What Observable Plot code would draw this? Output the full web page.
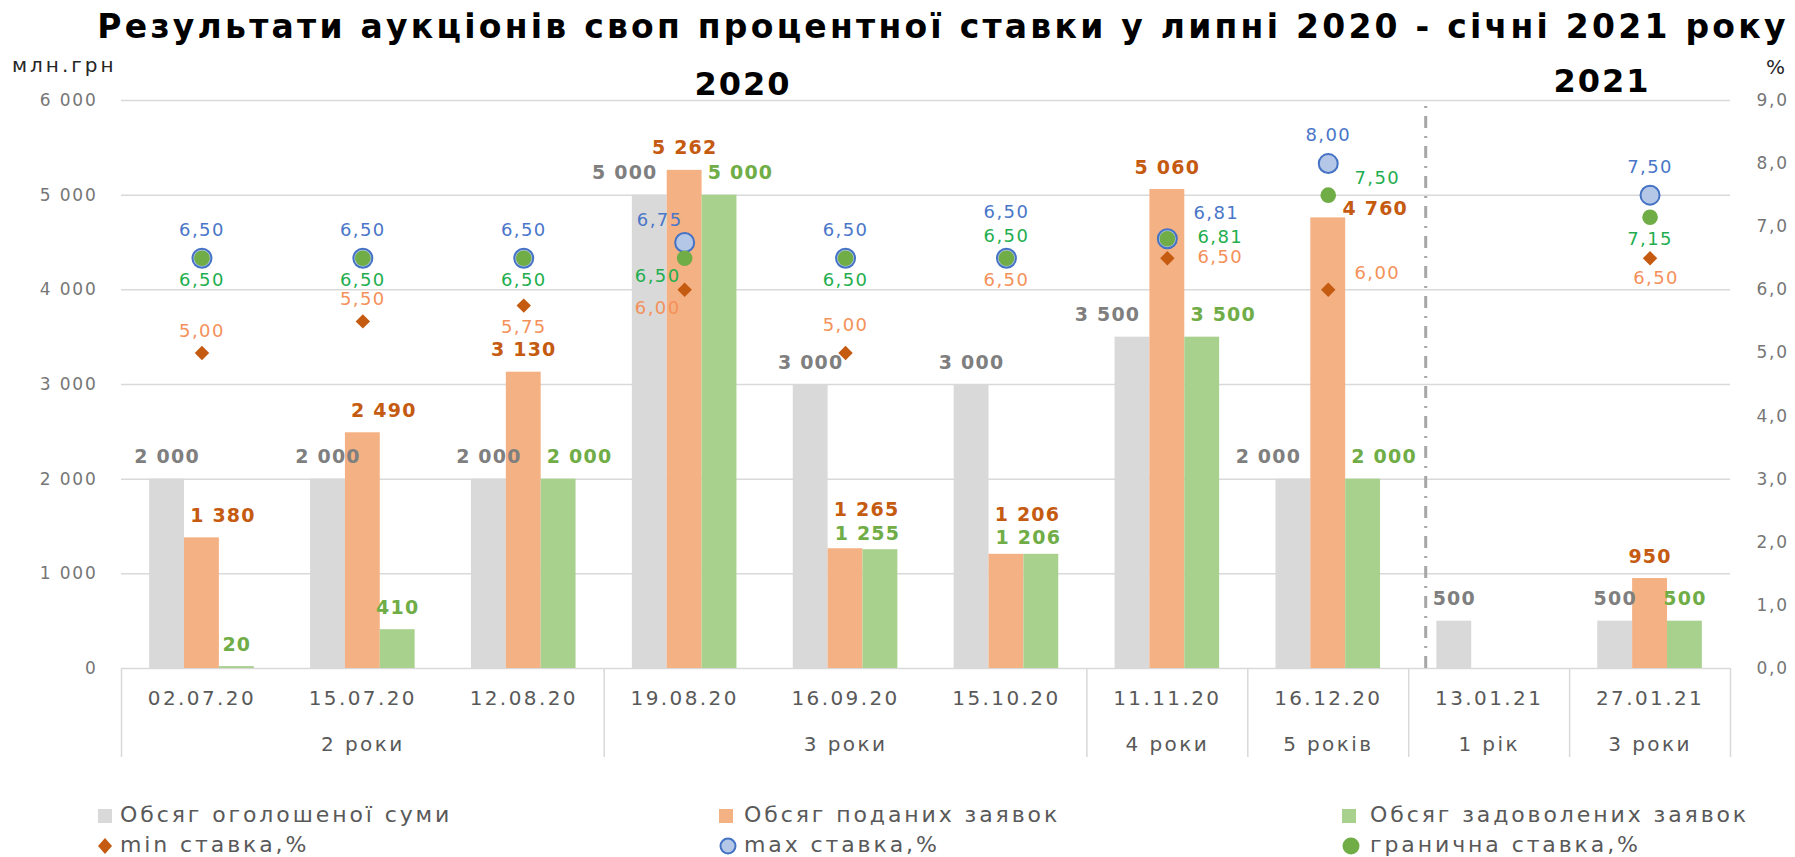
<!DOCTYPE html>
<html>
<head>
<meta charset="utf-8">
<script src="https://cdn.jsdelivr.net/npm/d3@7"></script>
<script src="https://cdn.jsdelivr.net/npm/@observablehq/plot@0.6"></script>
<style>
  html, body { margin: 0; padding: 0; background: #fff; }
  body { font-family: "DejaVu Sans", sans-serif; }
  #wrap { position: relative; width: 1795px; height: 857px; overflow: hidden; }
  #header { position: relative; height: 52px; z-index: 2; }
  .abs { position: absolute; white-space: nowrap; line-height: 1; }
  .center { transform: translateX(-50%); }
  #title { left: 943px; top: 10px; font-size: 33px; font-weight: bold; color: #000; letter-spacing: 3.25px; }
  #unitL { left: 12px; top: 55px; font-size: 20px; color: #262626; letter-spacing: 3px; }
  #unitR { left: 1766px; top: 57px; font-size: 20px; color: #262626; }
  .year { font-size: 32px; font-weight: bold; color: #000; letter-spacing: 2px; }
  #chart { position: relative; height: 718px; z-index: 1; }
  #legend { position: relative; height: 87px; }
  .lg-text { font-size: 22px; color: #595959; letter-spacing: 2.9px; }
  #chart svg g[font-size="17"] text { letter-spacing: 1.8px; }
  #chart svg g[font-size="20"] text { letter-spacing: 2.4px; }
  #chart svg g[font-size="19"] text { letter-spacing: 1.2px; }
  #chart svg g[font-size="18"] text { letter-spacing: 1.4px; }
</style>
</head>
<body>
<div id="wrap">
  <div id="header">
    <div id="title" class="abs center">Результати аукціонів своп процентної ставки у липні 2020 - січні 2021 року</div>
    <div id="unitL" class="abs">млн.грн</div>
    <div id="unitR" class="abs">%</div>
    <div id="years"></div>
  </div>
  <div id="chart"></div>
  <div id="legend"></div>
</div>
<script>
// ---------------- data ----------------
const dates = ["02.07.20","15.07.20","12.08.20","19.08.20","16.09.20","15.10.20","11.11.20","16.12.20","13.01.21","27.01.21"];
const terms = ["2 роки","2 роки","2 роки","3 роки","3 роки","3 роки","4 роки","5 років","1 рік","3 роки"];
const announced = [2000, 2000, 2000, 5000, 3000, 3000, 3500, 2000, 500, 500];
const submitted = [1380, 2490, 3130, 5262, 1265, 1206, 5060, 4760, null, 950];
const satisfied = [20, 410, 2000, 5000, 1255, 1206, 3500, 2000, null, 500];
const minRate = [5.00, 5.50, 5.75, 6.00, 5.00, 6.50, 6.50, 6.00, null, 6.50];
const maxRate = [6.50, 6.50, 6.50, 6.75, 6.50, 6.50, 6.81, 8.00, null, 7.50];
const cutRate = [6.50, 6.50, 6.50, 6.50, 6.50, 6.50, 6.81, 7.50, null, 7.15];
const amountTicks = [0, 1000, 2000, 3000, 4000, 5000, 6000];
const rateTicks = [0, 1, 2, 3, 4, 5, 6, 7, 8, 9];
const yearLabels = ["2020", "2021"];
const seriesNames = ["Обсяг оголошеної суми", "Обсяг поданих заявок", "Обсяг задоволених заявок"];
const rateNames = ["min ставка,%", "max ставка,%", "гранична ставка,%"];

// ---------------- label placement (layout, not data) ----------------
const offsets = {
  n: [0, -22], up: [0, -28], nn: [0, -46], s: [0, 22],
  ne: [21, -22], nw: [-25, -22], nne: [21, -39], nnw: [-13, -16],
  sw: [-27, 18], se: [6, 20], e: [53, -1], en: [49, -17], ene: [49, -25], eb: [47, -9]
};
const grayPos   = ["n","n","n","nw","n","n","nw","nw","n","n"];
const orangePos = ["ne","ne","n","n","nne","nne","n","eb",null,"n"];
const greenPos  = ["n","n","ne","ne","nnw","nnw","ne","ne",null,"n"];
const maxPos    = ["up","up","up","nw","up","nn","ene","up",null,"up"];
const cutPos    = ["s","s","s","sw","s","n","e","en",null,"s"];
const minPos    = ["n","n","s","sw","up","s","e","en",null,"se"];

// ---------------- colors ----------------
const C = {
  gray: "#d9d9d9", orange: "#f4b183", green: "#a9d18e",
  grayLbl: "#7f7f7f", orangeLbl: "#c55a11", greenLbl: "#70ad47",
  minMk: "#c55a11", maxFill: "#b4c7e7", maxStroke: "#4472c4", cutMk: "#70ad47",
  minLbl: "#f4915a", maxLbl: "#4a76c9", cutLbl: "#1fae4f",
  tick: "#767676", axis: "#595959", grid: "#d9d9d9"
};

const n = dates.length;
const amountMax = d3.max(amountTicks);
const rateMax = d3.max(rateTicks);
const rateToY = r => r == null ? null : r * amountMax / rateMax;
const fmtAmt = v => d3.format(",")(v).replace(/,/g, " ");
const fmtRate = v => v.toFixed(2).replace(".", ",");
const fmtRateTick = v => (v * rateMax / amountMax).toFixed(1).replace(".", ",");

const rows = dates.map((d, i) => ({i}));

// bar layout within each category slot [i, i+1]
const groupPad = 0.175;
const barW = (1 - 2 * groupPad) / 3;
const barX1 = k => r => r.i + groupPad + k * barW;
const barX2 = k => r => r.i + groupPad + (k + 1) * barW;
const barXC = k => r => r.i + groupPad + (k + 0.5) * barW;
const slotC = r => r.i + 0.5;

// groups of consecutive equal terms
const groups = [];
terms.forEach((t, i) => {
  const g = groups[groups.length - 1];
  if (g && g.term === t) g.end = i + 1; else groups.push({term: t, start: i, end: i + 1});
});
const boundaries = [0, ...groups.map(g => g.end)];
const groupCenters = groups.map(g => (g.start + g.end) / 2);
const groupLabelAt = new Map(groups.map(g => [(g.start + g.end) / 2, g.term]));
const yearChange = dates.findIndex(d => d.endsWith("21"));

function placed(values, pos, xAcc, yAcc, fmt, style) {
  const codes = [...new Set(pos.filter(Boolean))];
  return codes.map(code => Plot.text(
    rows.filter(r => pos[r.i] === code && values[r.i] != null),
    {x: xAcc, y: yAcc, text: r => fmt(values[r.i]), dx: offsets[code][0], dy: offsets[code][1], ...style}
  ));
}

const barLbl = fill => ({fill, fontSize: 19, fontWeight: "bold"});
const rateLbl = fill => ({fill, fontSize: 18});

const chart = Plot.plot({
  width: 1795,
  height: 718,
  marginTop: 48,
  marginBottom: 102,
  marginLeft: 121,
  marginRight: 65,
  style: {fontFamily: "DejaVu Sans, sans-serif", background: "transparent", overflow: "visible"},
  x: {type: "linear", domain: [0, n], axis: null},
  y: {domain: [0, amountMax], axis: null},
  marks: [
    Plot.gridY(amountTicks, {stroke: C.grid, strokeOpacity: 1, strokeWidth: 1.5}),
    Plot.axisY(amountTicks, {anchor: "left", tickSize: 0, tickPadding: 24, tickFormat: fmtAmt, fontSize: 17, color: C.tick, label: null}),
    Plot.axisY(rateTicks.map(rateToY), {anchor: "right", tickSize: 0, tickPadding: 26, tickFormat: fmtRateTick, fontSize: 17, color: C.tick, label: null}),
    // category axis rows
    Plot.axisX(d3.range(n).map(i => i + 0.5), {anchor: "bottom", tickSize: 0, tickPadding: 22, tickFormat: v => dates[Math.floor(v)], fontSize: 20, color: C.axis, label: null}),
    Plot.axisX(groupCenters, {anchor: "bottom", tickSize: 0, tickPadding: 68, tickFormat: v => groupLabelAt.get(v), fontSize: 20, color: C.axis, label: null}),
    Plot.axisX(boundaries, {anchor: "bottom", tickSize: 89, stroke: C.grid, strokeWidth: 1.5, fill: "none", tickFormat: () => "", label: null}),
    // bars
    Plot.rectY(rows.filter(r => announced[r.i] != null), {x1: barX1(0), x2: barX2(0), y1: 0, y2: r => announced[r.i], fill: C.gray}),
    Plot.rectY(rows.filter(r => submitted[r.i] != null), {x1: barX1(1), x2: barX2(1), y1: 0, y2: r => submitted[r.i], fill: C.orange}),
    Plot.rectY(rows.filter(r => satisfied[r.i] != null), {x1: barX1(2), x2: barX2(2), y1: 0, y2: r => satisfied[r.i], fill: C.green}),
    // year divider
    Plot.ruleX([yearChange], {y1: 0, y2: amountMax, dx: 17, stroke: "#a6a6a6", strokeWidth: 3, strokeDasharray: "12,8,2,8"}),
    // rate markers
    Plot.dot(rows.filter(r => minRate[r.i] != null), {x: slotC, y: r => rateToY(minRate[r.i]), symbol: "diamond2", r: 6.5, fill: C.minMk}),
    Plot.dot(rows.filter(r => maxRate[r.i] != null), {x: slotC, y: r => rateToY(maxRate[r.i]), r: 9.5, fill: C.maxFill, stroke: C.maxStroke, strokeWidth: 2}),
    Plot.dot(rows.filter(r => cutRate[r.i] != null), {x: slotC, y: r => rateToY(cutRate[r.i]), r: 7.8, fill: C.cutMk}),
    // bar labels
    ...placed(announced, grayPos, barXC(0), r => announced[r.i], fmtAmt, barLbl(C.grayLbl)),
    ...placed(submitted, orangePos, barXC(1), r => submitted[r.i], fmtAmt, barLbl(C.orangeLbl)),
    ...placed(satisfied, greenPos, barXC(2), r => satisfied[r.i], fmtAmt, barLbl(C.greenLbl)),
    // rate labels
    ...placed(maxRate, maxPos, slotC, r => rateToY(maxRate[r.i]), fmtRate, rateLbl(C.maxLbl)),
    ...placed(cutRate, cutPos, slotC, r => rateToY(cutRate[r.i]), fmtRate, rateLbl(C.cutLbl)),
    ...placed(minRate, minPos, slotC, r => rateToY(minRate[r.i]), fmtRate, rateLbl(C.minLbl))
  ]
});
document.getElementById("chart").appendChild(chart);

// year headings over the plot
const yearPos = [{left: 743, top: 68}, {left: 1602, top: 65}];
const yearsDiv = document.getElementById("years");
yearLabels.forEach((y, k) => {
  const el = document.createElement("div");
  el.className = "abs center year";
  el.style.left = yearPos[k].left + "px";
  el.style.top = yearPos[k].top + "px";
  el.textContent = y;
  yearsDiv.appendChild(el);
});

// legend
const legend = document.getElementById("legend");
const colX = [{mk: 98, tx: 120}, {mk: 719, tx: 744}, {mk: 1342, tx: 1370}];
const rowY = [46, 76];
const markerSvg = [
  `<svg width="14" height="14"><rect width="14" height="14" fill="${C.gray}"/></svg>`,
  `<svg width="14" height="14"><rect width="14" height="14" fill="${C.orange}"/></svg>`,
  `<svg width="14" height="14"><rect width="14" height="14" fill="${C.green}"/></svg>`,
  `<svg width="14" height="16"><path d="M7,0L14,8L7,16L0,8Z" fill="${C.minMk}"/></svg>`,
  `<svg width="18" height="18"><circle cx="9" cy="9" r="7.5" fill="${C.maxFill}" stroke="${C.maxStroke}" stroke-width="2"/></svg>`,
  `<svg width="18" height="18"><circle cx="9" cy="9" r="8.5" fill="${C.cutMk}"/></svg>`
];
[...seriesNames, ...rateNames].forEach((name, k) => {
  const row = Math.floor(k / 3), col = k % 3;
  const mk = document.createElement("div");
  mk.className = "abs";
  mk.innerHTML = markerSvg[k];
  mk.style.left = colX[col].mk + "px";
  mk.style.top = rowY[row] + "px";
  mk.style.transform = "translateY(-50%)";
  mk.style.lineHeight = "0";
  legend.appendChild(mk);
  const tx = document.createElement("div");
  tx.className = "abs lg-text";
  tx.textContent = name;
  tx.style.left = colX[col].tx + "px";
  tx.style.top = (rowY[row] - 12) + "px";
  legend.appendChild(tx);
});
</script>
</body>
</html>
